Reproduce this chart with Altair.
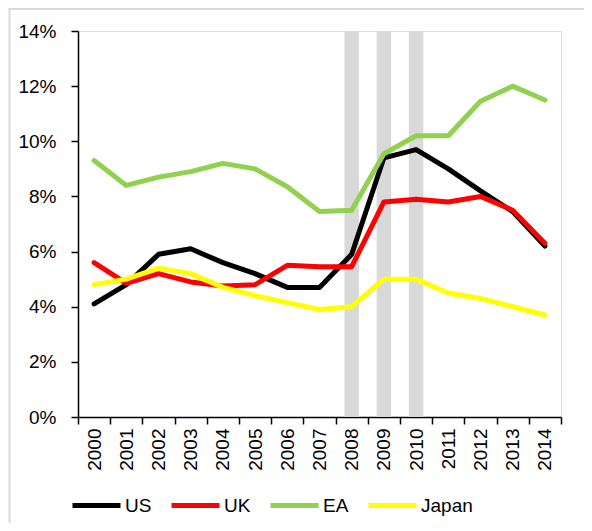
import altair as alt
import pandas as pd

years = [str(y) for y in range(2000, 2015)]
us = [4.1, 4.8, 5.9, 6.1, 5.6, 5.2, 4.7, 4.7, 5.9, 9.4, 9.7, 9.0, 8.2, 7.45, 6.2]
uk = [5.6, 4.85, 5.2, 4.9, 4.75, 4.8, 5.5, 5.45, 5.45, 7.8, 7.9, 7.8, 8.0, 7.5, 6.3]
ea = [9.3, 8.4, 8.7, 8.9, 9.2, 9.0, 8.35, 7.45, 7.5, 9.55, 10.2, 10.2, 11.45, 12.0, 11.5]
japan = [4.8, 5.0, 5.4, 5.2, 4.7, 4.4, 4.15, 3.9, 4.0, 5.0, 5.0, 4.5, 4.3, 4.0, 3.7]
series_names = ["US", "UK", "EA", "Japan"]
series_colors = ["#000000", "#FF0000", "#92D050", "#FFFF00"]
crisis_years = ["2008", "2009", "2010"]
y_ticks = [0, 2, 4, 6, 8, 10, 12, 14]

rows = []
for name, vals in zip(series_names, [us, uk, ea, japan]):
    for yr, v in zip(years, vals):
        rows.append({"year": yr, "value": v, "series": name})
df = pd.DataFrame(rows)
crisis = pd.DataFrame({"year": crisis_years, "top": [14] * 3, "bottom": [0] * 3})

FONT = "Liberation Sans"
W, H = 483, 386
PL, PT = 70, 23
TOTAL_W, TOTAL_H = 576, 515

x_enc = alt.X("year:O", sort=years, scale=alt.Scale(domain=years, paddingInner=0, paddingOuter=0),
              axis=alt.Axis(title=None, labelAngle=270, labelAlign="right", labelBaseline="middle",
                            tickBand="extent", tickSize=7, labelPadding=4, labelFontSize=19,
                            labelFont=FONT, labelColor="black", domainColor="black",
                            tickColor="black", domainWidth=1.5, tickWidth=1.5, grid=False))

bars = alt.Chart(crisis).mark_bar(color="#D9D9D9", size=14.5).encode(
    x=x_enc,
    y=alt.Y("top:Q", scale=alt.Scale(domain=[0, 14], nice=False),
            axis=alt.Axis(title=None, values=y_ticks, labelExpr="datum.value + '%'",
                          tickSize=7, labelPadding=15, labelFontSize=19, labelFont=FONT,
                          labelColor="black", domainColor="black", tickColor="black",
                          domainWidth=1.5, tickWidth=1.5, grid=False)),
    y2="bottom:Q",
)

lines = alt.Chart(df).mark_line(strokeWidth=5, strokeJoin="round", strokeCap="round").encode(
    x=alt.X("year:O", sort=years),
    y=alt.Y("value:Q"),
    color=alt.Color("series:N", sort=series_names,
                    scale=alt.Scale(domain=series_names, range=series_colors),
                    legend=alt.Legend(title=None, orient="none", direction="horizontal",
                                      legendX=-8, legendY=448, symbolType="stroke",
                                      symbolSize=2304, symbolStrokeWidth=5,
                                      labelFontSize=19, labelFont=FONT, labelColor="black",
                                      labelOffset=2, columnPadding=9, gridAlign="none")),
    detail="series:N",
)

one = pd.DataFrame({"a": [0]})
frame_left = alt.Chart(one).mark_rule(color="#D9D9D9", strokeWidth=2).encode(
    x=alt.value(1.5 - PL), y=alt.value(-PT), y2=alt.value(TOTAL_H - PT))
frame_top = alt.Chart(one).mark_rule(color="#D9D9D9", strokeWidth=2).encode(
    x=alt.value(0.5 - PL), x2=alt.value(TOTAL_W - PL), y=alt.value(1 - PT))

chart = alt.layer(frame_left, frame_top, bars, lines).properties(
    width=W, height=H,
    autosize=alt.AutoSizeParams(type="none"),
    padding={"left": PL, "top": PT, "right": TOTAL_W - PL - W, "bottom": TOTAL_H - PT - H},
).configure_view(stroke=None).configure(background="white")

chart.save("out.html", embed_options={"renderer": "svg", "actions": False})
